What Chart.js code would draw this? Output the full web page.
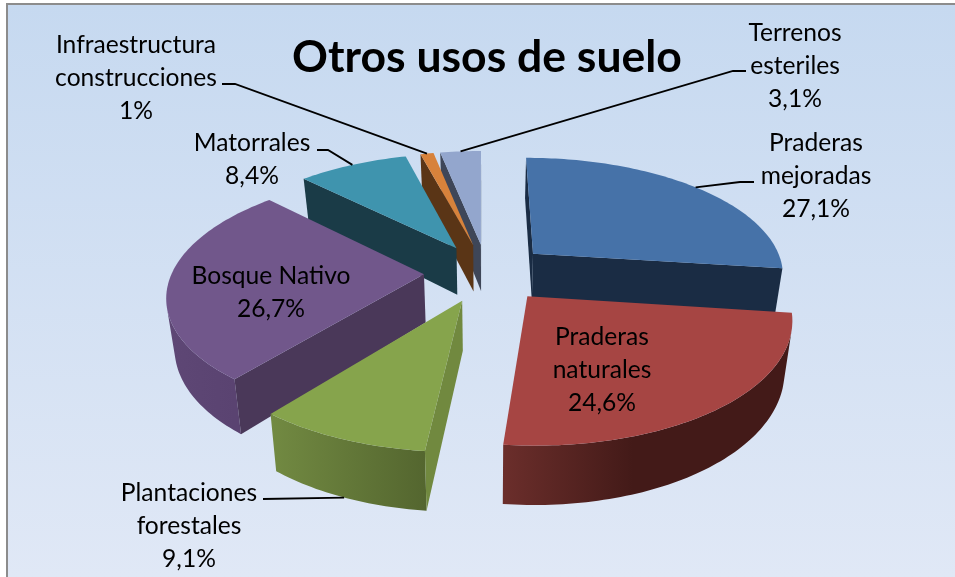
<!DOCTYPE html>
<html>
<head>
<meta charset="utf-8">
<title>Otros usos de suelo</title>
<script src="https://cdn.jsdelivr.net/npm/chart.js@4"></script>
<style>
    html, body { margin: 0; padding: 0; background: #fff; overflow: hidden; }
    #wrap { position: absolute; left: 0; top: 0; width: 955px; height: 577px; }
</style>
</head>
<body>
<div id="wrap"><canvas id="usos"></canvas></div>
<script>
var categories = ['Praderas mejoradas', 'Praderas naturales', 'Plantaciones forestales', 'Bosque Nativo', 'Matorrales', 'Infraestructura construcciones', 'Terrenos esteriles'];
var values = [27.1, 24.6, 9.1, 26.7, 8.4, 1, 3.1];
var labelLines = [['Praderas', 'mejoradas'], ['Praderas', 'naturales'], ['Plantaciones', 'forestales'], ['Bosque Nativo'], ['Matorrales'], ['Infraestructura', 'construcciones'], ['Terrenos', 'esteriles']];

var topColors = ['#4672a8', '#a64543', '#86a44c', '#71578b', '#3f94ae', '#d7823b', '#93a6cd'];
var edgeColors = ['#1a2c44', '#431a18', '#71893f', '#4a3859', '#1a3b47', '#5a3516', '#3e4658'];
var rimLeft = ['#1a2c44', '#6b2e2b', '#728a42', '#5e4775', '#1a3b47', '#5a3516', '#3e4658'];
var rimRight = ['#1a2c44', '#431a18', '#54662f', '#5a4371', '#1a3b47', '#5a3516', '#3e4658'];
var rimStop = [1, 0.45, 1, 1, 1, 1, 1];

// text centre, first line y, elbow points of the leader line
var labelX = [816, 602, 189, 271, 252, 136, 795];
var labelY = [143, 337, 493, 276, 143, 45, 33];
var leaders = [
    [[740, 182], [754, 182]],
    null,
    [[263, 499]],
    null,
    [[328, 150], [317, 150]],
    [[235, 84], [222, 84]],
    [[733, 71], [746, 71]]
];

// perspective of the floor plane
var squash = 0.464, persp = 0.16, depth = 48, shrink = 0.026;
var labelFont = '24.6px Lato';

function project(el, u, v, low) {
    var w = 1 + persp * v;
    var px = el.x + el.outerRadius * u / w;
    var py = el.y - el.outerRadius * squash * v / w;
    if (low) {
        px = el.x + (px - el.x) * (1 - shrink);
        py = py + depth / w;
    }
    return { x: px, y: py };
}

// a point of the slice: rr is the distance from its tip, th the clockwise angle from the top
function slicePoint(el, th, rr, low) {
    var mid = (el.startAngle + el.endAngle) / 2 + Math.PI / 2;
    var e = el.options.offset / el.outerRadius;
    var u = e * Math.sin(mid) + rr * Math.sin(th);
    var v = e * Math.cos(mid) + rr * Math.cos(th);
    return project(el, u, v, low);
}

function quadArea(q) {
    var s = 0;
    for (var i = 0; i < q.length; i++) {
        var a = q[i], b = q[(i + 1) % q.length];
        s += a.x * b.y - b.x * a.y;
    }
    return s;
}

function fillPoly(ctx, pts, color) {
    ctx.beginPath();
    pts.forEach(function (p, i) {
        if (i == 0) ctx.moveTo(p.x, p.y); else ctx.lineTo(p.x, p.y);
    });
    ctx.closePath();
    ctx.fillStyle = color;
    ctx.fill();
}

function drawSlice(ctx, el, i) {
    var a0 = el.startAngle + Math.PI / 2, a1 = el.endAngle + Math.PI / 2;
    var steps = Math.max(4, Math.ceil((a1 - a0) / 0.02));
    var rim = [];
    for (var s = 0; s <= steps; s++) rim.push(a0 + (a1 - a0) * s / steps);

    var tip = slicePoint(el, a0, 0, false), tipLow = slicePoint(el, a0, 0, true);
    var top = [tip];
    rim.forEach(function (th) { top.push(slicePoint(el, th, 1, false)); });

    // the part of the outer wall that faces the viewer, as one polygon
    var upper = [], lower = [];
    for (var k = 0; k < steps; k++) {
        var q = [slicePoint(el, rim[k], 1, false), slicePoint(el, rim[k + 1], 1, false), slicePoint(el, rim[k + 1], 1, true), slicePoint(el, rim[k], 1, true)];
        if (quadArea(q) < 0) {
            if (!upper.length) { upper.push(q[0]); lower.push(q[3]); }
            upper.push(q[1]);
            lower.push(q[2]);
        }
    }
    if (upper.length) {
        var xs = upper.map(function (p) { return p.x; });
        var g = ctx.createLinearGradient(Math.min.apply(null, xs), 0, Math.max.apply(null, xs), 0);
        g.addColorStop(0, rimLeft[i]);
        g.addColorStop(rimStop[i], rimRight[i]);
        g.addColorStop(1, rimRight[i]);
        fillPoly(ctx, upper.concat(lower.reverse()), g);
    }

    // the two cut faces, only when they turn to the viewer
    [[tip, top[1], slicePoint(el, a0, 1, true), tipLow], [top[top.length - 1], tip, tipLow, slicePoint(el, a1, 1, true)]].forEach(function (q) {
        if (quadArea(q) < 0) fillPoly(ctx, q, edgeColors[i]);
    });

    fillPoly(ctx, top, topColors[i]);
}

function drawLabels(ctx, arcs) {
    ctx.textAlign = 'center';
    ctx.textBaseline = 'middle';
    arcs.forEach(function (el, i) {
        var lines = labelLines[i].concat(String(values[i]).replace('.', ',') + '%');
        var elbows = leaders[i];
        if (elbows) {
            // Plantaciones has its line on the lower rim, the others on the upper one
            var mid = (el.startAngle + el.endAngle) / 2 + Math.PI / 2;
            var from = slicePoint(el, mid, 1, Math.cos(mid) < 0);
            ctx.beginPath();
            ctx.moveTo(from.x, from.y);
            elbows.forEach(function (p) { ctx.lineTo(p[0], p[1]); });
            ctx.strokeStyle = '#000';
            ctx.lineWidth = 1.8;
            ctx.stroke();
        }
        ctx.font = labelFont;
        ctx.fillStyle = '#000';
        lines.forEach(function (txt, n) {
            ctx.fillText(txt, labelX[i], labelY[i] + n * 33);
        });
    });
}

var pie3d = {
    id: 'pie3d',
    beforeDraw: function (chart) {
        var ctx = chart.ctx;
        var g = ctx.createLinearGradient(0, 4, 0, 577);
        g.addColorStop(0, '#c6d9f0');
        g.addColorStop(1, '#e0e8f6');
        ctx.save();
        ctx.fillStyle = '#fff';
        ctx.fillRect(0, 0, 955, 577);
        ctx.fillStyle = g;
        ctx.fillRect(7, 4, 948, 573);
        ctx.fillStyle = '#8c8c8c';
        ctx.fillRect(6, 3, 949, 2);
        ctx.fillRect(6, 3, 2, 574);
        ctx.restore();
    },
    beforeDatasetsDraw: function (chart) {
        var ctx = chart.ctx;
        var arcs = chart.getDatasetMeta(0).data;
        var order = arcs.map(function (el, i) { return i; });
        var depthOf = function (i) { return Math.cos((arcs[i].startAngle + arcs[i].endAngle) / 2 + Math.PI / 2); };
        order.sort(function (a, b) { return depthOf(b) - depthOf(a); });
        ctx.save();
        order.forEach(function (i) { drawSlice(ctx, arcs[i], i); });
        drawLabels(ctx, arcs);
        ctx.restore();
        return false;
    }
};

new Chart(document.getElementById('usos'), {
    type: 'pie',
    plugins: [pie3d],
    data: {
        labels: categories,
        datasets: [{
            data: values,
            backgroundColor: topColors,
            offset: 63,
            borderWidth: 0
        }]
    },
    options: {
        responsive: true,
        maintainAspectRatio: false,
        animation: false,
        events: [],
        radius: 252,
        rotation: -0.2,
        layout: { padding: { left: 19, bottom: 116 } },
        plugins: {
            legend: { display: false },
            tooltip: { enabled: false },
            title: {
                display: true,
                text: 'Otros usos de suelo',
                fullSize: false,
                color: '#000',
                font: { family: 'Lato', size: 44.5, weight: 'bold', lineHeight: 1.2 },
                padding: { top: 31, bottom: 0 }
            }
        }
    }
});
</script>
</body>
</html>
